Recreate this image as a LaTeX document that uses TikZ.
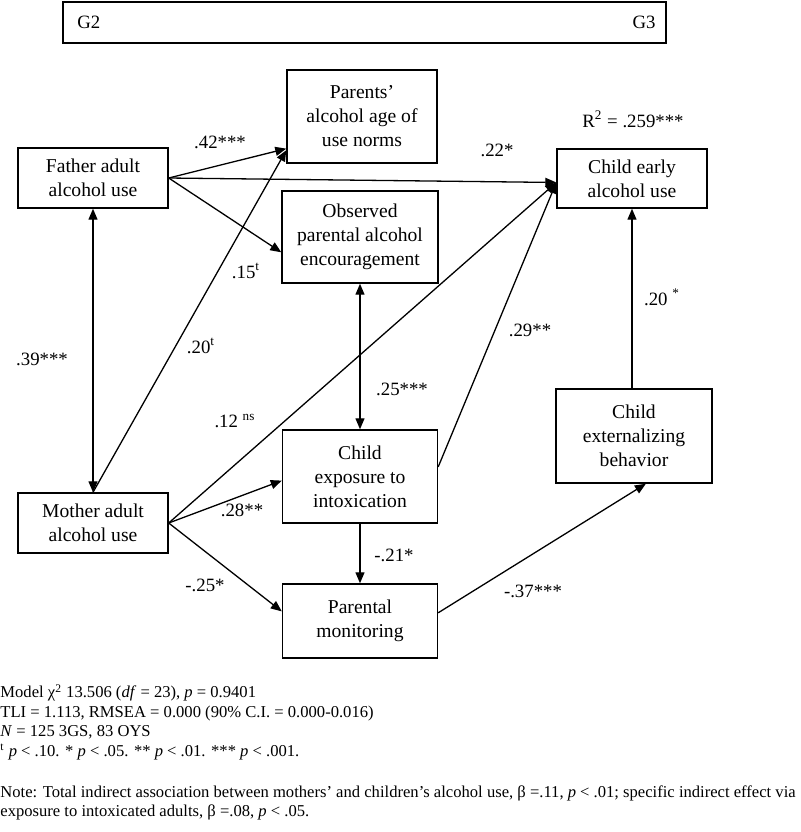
\documentclass[tikz,border=0pt]{standalone}
\usepackage{fontspec}
\setmainfont{Liberation Serif}
\usepackage{tikz}
\usetikzlibrary{arrows.meta}
\usetikzlibrary{positioning}

\begin{document}
\begin{tikzpicture}[
    x=0.5pt, y=-0.5pt,
    box style/.style={rectangle, draw, line width=0.7pt, align=center, minimum width=75pt, inner sep=2pt, font=\fontsize{9.8}{12}\selectfont},
    coef style/.style={inner sep=0pt, font=\fontsize{9.4}{11}\selectfont},
    path style/.style={line width=0.65pt, -{Triangle[length=5.5pt,width=4.5pt]}},
    corr style/.style={line width=0.65pt, {Triangle[length=5.5pt,width=4.5pt]}-{Triangle[length=5.5pt,width=4.5pt]}},
    note style/.style={anchor=north west, inner sep=0pt, align=left, font=\fontsize{8.3}{9.75}\selectfont}
]
\useasboundingbox (0,0) rectangle (800,832);

% generations
\node[draw, line width=0.7pt, minimum width=301.5pt, minimum height=20.5pt] (gen) at (364.5,22.5) {};
\node[coef style, anchor=west] (g2) at (77,22) {G2};
\node[coef style, anchor=east] (g3) at (656,22) {G3};

% variables
\node[box style, minimum height=30pt] (father) at (93,178) {Father adult\\alcohol use};
\node[box style, minimum height=30pt] (mother) at (93,523) {Mother adult\\alcohol use};
\node[box style, minimum height=46.5pt] (norms) at (362,116.5) {Parents'\\alcohol age of\\use norms};
\node[box style, minimum width=78pt, minimum height=46pt] (encour) at (360,237) {Observed\\parental alcohol\\encouragement};
\node[box style, minimum width=77.5pt, minimum height=46.5pt] (exposure) at (360,476.5) {Child\\exposure to\\intoxication};
\node[box style, minimum width=77.5pt, minimum height=37pt] (monitor) at (360,621) {Parental\\monitoring};
\node[box style, minimum height=29.5pt] (child) at (632,178.5) {Child early\\alcohol use};
\node[box style, minimum width=78pt, minimum height=47pt] (extern) at (634,436) {Child\\externalizing\\behavior};

% paths
\draw[path style] (father.east) -- (norms.203);
\draw[path style] (father.east) -- (child.183);
\draw[path style] (father.east) -- (encour.191);
\draw[corr style] (father.south) -- (mother.north);
\draw[path style] (mother.north) -- (norms.204);
\draw[path style] (mother.east) -- (child.183);
\draw[path style] (mother.east) -- (exposure.183);
\draw[path style] (mother.east) -- (monitor.173);
\draw[corr style] (encour.south) -- (exposure.north);
\draw[path style] (exposure.south) -- (monitor.north);
\draw[path style] (exposure.7) -- (child.183);
\draw[path style] (monitor.6) -- (extern.284);
\draw[path style] (extern.north -| child.south) -- (child.south);

% coefficients
\node[coef style] (c42) at (220,142) {.42***};
\node[coef style] (c22) at (497,150) {.22*};
\node[coef style] (r2) at (633,119) {R\textsuperscript{2} = .259***};
\node[coef style] (c15) at (246,271) {.15\textsuperscript{t}};
\node[coef style] (c39) at (42,359) {.39***};
\node[coef style] (c20a) at (201,346) {.20\textsuperscript{t}};
\node[coef style] (c12) at (235,421) {.12 \textsuperscript{ns}};
\node[coef style] (c25) at (402,389) {.25***};
\node[coef style] (c29) at (530,330) {.29**};
\node[coef style] (c20b) at (662,297) {.20 \textsuperscript{*}};
\node[coef style] (c28) at (242,510) {.28**};
\node[coef style] (c25m) at (205,585) {-.25*};
\node[coef style] (c21) at (394,555) {-.21*};
\node[coef style] (c37) at (533,591) {-.37***};

% fit and notes
\node[note style] (fit) at (0,684) {Model χ\textsuperscript{2} 13.506 (\textit{df} = 23), \textit{p} = 0.9401\\
TLI = 1.113, RMSEA = 0.000 (90\% C.I. = 0.000-0.016)\\
\textit{N} = 125 3GS, 83 OYS\\
\textsuperscript{t} \textit{p} < .10. * \textit{p} < .05. ** \textit{p} < .01. *** \textit{p} < .001.};
\node[note style] (note) at (0,785) {Note: Total indirect association between mothers' and children's alcohol use, β =.11, \textit{p} < .01; specific indirect effect via\\
exposure to intoxicated adults, β =.08, \textit{p} < .05.};
\end{tikzpicture}
\end{document}
